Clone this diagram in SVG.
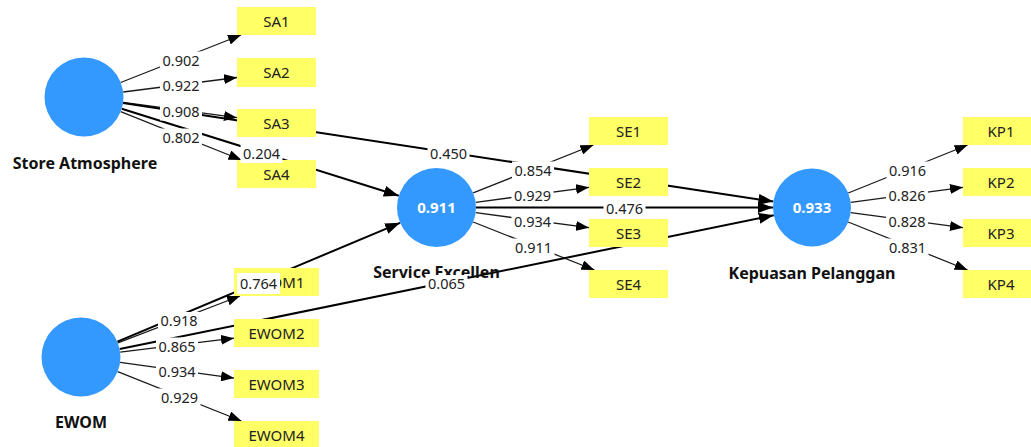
<svg xmlns="http://www.w3.org/2000/svg" width="1031" height="447" viewBox="0 0 1031 447">
  <style>
    .bg { fill: #ffffff; }
    .lv { fill: #3399ff; }
    .lv-val { font-family: "Noto Sans", "Open Sans", sans-serif; font-size: 15px; font-weight: bold; fill: #ffffff; text-anchor: middle; }
    .lv-name { font-family: "Noto Sans", "Open Sans", sans-serif; font-size: 16px; font-weight: bold; fill: #111111; text-anchor: middle; }
    .ind { fill: #ffff66; }
    .ind-text { font-family: "Noto Sans", "Open Sans", sans-serif; font-size: 15px; fill: #222222; text-anchor: middle; }
    .load { stroke: #1a1a1a; stroke-width: 1.3; fill: none; marker-end: url(#arrowSmall); }
    .path { stroke: #000000; stroke-width: 2; fill: none; marker-end: url(#arrowBig); }
    .lbl-bg { fill: #ffffff; }
    .lbl { font-family: "Noto Sans", "Open Sans", sans-serif; font-size: 14.5px; fill: #222222; text-anchor: middle; }
  </style>
  <defs>
    <marker id="arrowSmall" markerUnits="userSpaceOnUse" markerWidth="13" markerHeight="10" viewBox="0 0 13 10" refX="13" refY="5" orient="auto">
      <path d="M0,0 L13,5 L0,10 z" fill="#000000"/>
    </marker>
    <marker id="arrowBig" markerUnits="userSpaceOnUse" markerWidth="15" markerHeight="11" viewBox="0 0 15 11" refX="15" refY="5.5" orient="auto">
      <path d="M0,0 L15,5.5 L0,11 z" fill="#000000"/>
    </marker>
  </defs>

  <rect class="bg" x="0" y="0" width="1031" height="447"/>

  <!-- connectors: outer loadings and inner paths -->
  <g id="connectors">
    <!-- Store Atmosphere loadings -->
    <line class="load" x1="120.7" y1="82.5" x2="241" y2="35"/>
    <line class="load" x1="123.2" y1="92" x2="237" y2="77.5"/>
    <line class="load" x1="123.1" y1="102.3" x2="237" y2="117.7"/>
    <line class="load" x1="120.7" y1="111.7" x2="241.5" y2="160"/>
    <!-- EWOM loadings -->
    <line class="load" x1="117.9" y1="342.9" x2="240" y2="296"/>
    <line class="load" x1="120.2" y1="352.2" x2="234" y2="338.2"/>
    <line class="load" x1="120.1" y1="362.4" x2="234" y2="378.1"/>
    <line class="load" x1="117.7" y1="371.6" x2="241.4" y2="421"/>
    <!-- Service Excellence loadings -->
    <line class="load" x1="473.2" y1="192.9" x2="593.4" y2="145"/>
    <line class="load" x1="475.7" y1="202.3" x2="589" y2="187.3"/>
    <line class="load" x1="475.7" y1="212.7" x2="589" y2="227.7"/>
    <line class="load" x1="473.2" y1="222" x2="594.4" y2="270"/>
    <!-- Kepuasan Pelanggan loadings -->
    <line class="load" x1="848.2" y1="193" x2="967.6" y2="145"/>
    <line class="load" x1="850.7" y1="202.3" x2="963" y2="187.3"/>
    <line class="load" x1="850.7" y1="212.7" x2="963" y2="227.7"/>
    <line class="load" x1="848.2" y1="222" x2="967.6" y2="270"/>
    <!-- inner model paths -->
    <line class="path" x1="121.7" y1="108.8" x2="398.8" y2="195.7"/>
    <line class="path" x1="123" y1="103" x2="773.4" y2="201.6"/>
    <line class="path" x1="117.4" y1="341.7" x2="400.1" y2="222.8"/>
    <line class="path" x1="119.7" y1="349.1" x2="773.8" y2="215.3"/>
    <line class="path" x1="476" y1="207.5" x2="773" y2="207.5"/>
  </g>

  <!-- latent variables -->
  <g id="store-atmosphere">
    <circle class="lv" cx="84" cy="97" r="39.5"/>
    <text class="lv-name" x="85" y="169">Store Atmosphere</text>
  </g>
  <g id="ewom">
    <circle class="lv" cx="81" cy="357" r="39.5"/>
    <text class="lv-name" x="81" y="428">EWOM</text>
  </g>
  <g id="service-excellence">
    <circle class="lv" cx="436.5" cy="207.5" r="39.5"/>
    <text class="lv-val" x="436.5" y="213">0.911</text>
    <text class="lv-name" x="436.5" y="278">Service Excellen</text>
  </g>
  <g id="kepuasan-pelanggan">
    <circle class="lv" cx="812" cy="207.5" r="39"/>
    <text class="lv-val" x="812" y="213">0.933</text>
    <text class="lv-name" x="812" y="279">Kepuasan Pelanggan</text>
  </g>

  <!-- indicators -->
  <g id="SA1"><rect class="ind" x="237" y="7" width="79" height="28"/><text class="ind-text" x="276.5" y="26.5">SA1</text></g>
  <g id="SA2"><rect class="ind" x="237" y="58" width="79" height="29"/><text class="ind-text" x="276.5" y="78">SA2</text></g>
  <g id="SA3"><rect class="ind" x="237" y="109" width="79" height="28"/><text class="ind-text" x="276.5" y="128.5">SA3</text></g>
  <g id="SA4"><rect class="ind" x="237" y="160" width="79" height="28"/><text class="ind-text" x="276.5" y="179.5">SA4</text></g>

  <g id="EWOM1"><rect class="ind" x="234" y="268" width="85" height="28"/><text class="ind-text" x="276.5" y="287.5">EWOM1</text></g>
  <g id="EWOM2"><rect class="ind" x="234" y="319" width="85" height="28"/><text class="ind-text" x="276.5" y="338.5">EWOM2</text></g>
  <g id="EWOM3"><rect class="ind" x="234" y="370" width="85" height="28"/><text class="ind-text" x="276.5" y="389.5">EWOM3</text></g>
  <g id="EWOM4"><rect class="ind" x="234" y="421" width="85" height="28"/><text class="ind-text" x="276.5" y="440.5">EWOM4</text></g>

  <g id="SE1"><rect class="ind" x="589" y="117" width="79" height="28"/><text class="ind-text" x="628.5" y="136.5">SE1</text></g>
  <g id="SE2"><rect class="ind" x="589" y="168" width="79" height="28"/><text class="ind-text" x="628.5" y="187.5">SE2</text></g>
  <g id="SE3"><rect class="ind" x="589" y="219" width="79" height="28"/><text class="ind-text" x="628.5" y="238.5">SE3</text></g>
  <g id="SE4"><rect class="ind" x="589" y="270" width="79" height="28"/><text class="ind-text" x="628.5" y="289.5">SE4</text></g>

  <g id="KP1"><rect class="ind" x="963" y="117" width="79" height="28"/><text class="ind-text" x="1001" y="136.5">KP1</text></g>
  <g id="KP2"><rect class="ind" x="963" y="168" width="79" height="28"/><text class="ind-text" x="1001" y="187.5">KP2</text></g>
  <g id="KP3"><rect class="ind" x="963" y="219" width="79" height="28"/><text class="ind-text" x="1001" y="238.5">KP3</text></g>
  <g id="KP4"><rect class="ind" x="963" y="270" width="79" height="28"/><text class="ind-text" x="1001" y="289.5">KP4</text></g>

  <!-- coefficient labels on the connectors -->
  <g id="connector-labels">
    <rect class="lbl-bg" x="160" y="51.5" width="42" height="18"/><text class="lbl" x="181" y="65.5">0.902</text>
    <rect class="lbl-bg" x="160" y="77" width="42" height="18"/><text class="lbl" x="181" y="91">0.922</text>
    <rect class="lbl-bg" x="160" y="102.5" width="42" height="18"/><text class="lbl" x="181" y="116.5">0.908</text>
    <rect class="lbl-bg" x="160" y="128.5" width="42" height="18"/><text class="lbl" x="181" y="142.5">0.802</text>

    <rect class="lbl-bg" x="158" y="312" width="42" height="18"/><text class="lbl" x="179" y="326">0.918</text>
    <rect class="lbl-bg" x="156" y="337.5" width="42" height="18"/><text class="lbl" x="177" y="351.5">0.865</text>
    <rect class="lbl-bg" x="156" y="363" width="42" height="18"/><text class="lbl" x="177" y="377">0.934</text>
    <rect class="lbl-bg" x="158.5" y="388.5" width="42" height="18"/><text class="lbl" x="179.5" y="402.5">0.929</text>

    <rect class="lbl-bg" x="512" y="161.5" width="42" height="18"/><text class="lbl" x="533" y="175.5">0.854</text>
    <rect class="lbl-bg" x="511.5" y="187" width="42" height="18"/><text class="lbl" x="532.5" y="201">0.929</text>
    <rect class="lbl-bg" x="511.5" y="212.5" width="42" height="18"/><text class="lbl" x="532.5" y="226.5">0.934</text>
    <rect class="lbl-bg" x="512.5" y="238.5" width="42" height="18"/><text class="lbl" x="533.5" y="252.5">0.911</text>

    <rect class="lbl-bg" x="886.5" y="161.5" width="42" height="18"/><text class="lbl" x="907.5" y="175.5">0.916</text>
    <rect class="lbl-bg" x="886" y="187" width="42" height="18"/><text class="lbl" x="907" y="201">0.826</text>
    <rect class="lbl-bg" x="886" y="212.5" width="42" height="18"/><text class="lbl" x="907" y="226.5">0.828</text>
    <rect class="lbl-bg" x="886.5" y="238.5" width="42" height="18"/><text class="lbl" x="907.5" y="252.5">0.831</text>

    <rect class="lbl-bg" x="240.5" y="145" width="42" height="18"/><text class="lbl" x="261.5" y="159">0.204</text>
    <rect class="lbl-bg" x="427.5" y="145" width="42" height="18"/><text class="lbl" x="448.5" y="159">0.450</text>
    <rect class="lbl-bg" x="237" y="273" width="43" height="21"/><text class="lbl" x="258.5" y="289">0.764</text>
    <rect class="lbl-bg" x="425.5" y="275" width="42" height="18"/><text class="lbl" x="446.5" y="289">0.065</text>
    <rect class="lbl-bg" x="603.5" y="200" width="42" height="18"/><text class="lbl" x="624.5" y="214">0.476</text>
  </g>
</svg>
